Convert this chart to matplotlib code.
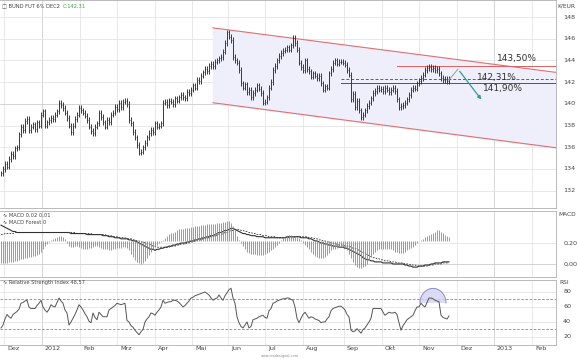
import numpy as np
import matplotlib
matplotlib.use("Agg")
import matplotlib.pyplot as plt

# ---------------- data ----------------
closes = [
    133.6, 134.0, 134.5, 134.2, 134.9, 135.4, 135.2, 135.9, 136.0, 137.2,
    137.9, 137.6, 138.4, 138.6, 137.6, 137.9, 138.1, 137.7, 138.3, 138.0,
    139.0, 139.3, 138.0, 138.3, 138.5, 138.7, 138.6, 139.0, 139.3, 140.1,
    139.9, 139.6, 139.2, 138.7, 138.0, 137.4, 138.0, 138.6, 139.0, 139.6,
    139.4, 139.2, 138.9, 138.5, 137.9, 137.5, 137.3, 137.9, 138.2, 139.2,
    138.8, 138.3, 137.9, 138.5, 138.3, 139.0, 139.2, 139.7, 139.5, 140.1,
    139.7, 140.2, 140.3, 140.0, 138.5, 138.2, 137.4, 136.9, 136.2, 135.5,
    135.6, 136.0, 136.4, 136.9, 137.3, 137.6, 137.4, 138.2, 137.9, 138.0,
    138.2, 140.1, 140.2, 139.9, 140.3, 140.2, 140.0, 140.5, 140.3, 140.6,
    140.8, 140.6, 140.5, 141.1, 141.0, 141.3, 141.7, 141.5, 142.2, 142.1,
    142.6, 142.9, 143.2, 143.0, 143.5, 143.7, 143.5, 143.9, 144.0, 144.2,
    144.3, 144.8, 145.6, 146.6, 146.2, 145.9, 144.3, 144.0, 143.8, 143.1,
    141.9, 141.5, 141.8, 141.1, 141.3, 140.6, 141.0, 141.3, 141.7, 141.4,
    141.0, 140.1, 140.2, 140.6, 141.5, 142.0, 143.1, 143.5, 144.0, 144.4,
    144.7, 144.9, 145.0, 145.2, 145.0, 145.4, 146.1, 145.6, 145.0, 143.8,
    143.4, 143.1, 144.0, 143.2, 143.0, 142.5, 142.8, 142.6, 142.4, 142.6,
    141.9, 141.3, 141.6, 141.5, 142.8, 143.2, 143.8, 144.0, 143.7, 143.9,
    143.9, 143.8, 143.6, 143.1, 142.7, 140.4, 140.9, 139.7, 140.3, 139.4,
    138.8, 139.0, 139.4, 139.8, 140.1, 140.5, 141.0, 141.2, 141.5, 141.3,
    141.4, 141.2, 141.5, 141.3, 141.1, 141.3, 141.5, 141.2, 140.4, 139.7,
    139.8, 139.9, 140.1, 140.4, 140.8, 141.3, 141.5, 141.4, 141.9, 142.1,
    142.4, 142.7, 143.1, 143.3, 143.4, 143.2, 143.3, 143.1, 143.2, 142.8,
    142.4, 142.2, 142.3, 142.1, 142.3,
]

rsi = [
    32, 36, 44, 50, 47, 45, 50, 52, 54, 57,
    65, 66, 68, 69, 60, 58, 58, 58, 62, 65,
    69, 60, 56, 53, 57, 63, 61, 60, 66, 72,
    68, 65, 56, 52, 36, 40, 45, 50, 56, 63,
    60, 56, 51, 47, 41, 39, 52, 46, 43, 53,
    50, 47, 47, 47, 56, 58, 60, 62, 65, 64,
    63, 64, 65, 42, 40, 35, 33, 29, 26, 23,
    27, 30, 40, 44, 47, 52, 51, 49, 53, 56,
    60, 69, 65, 66, 67, 67, 69, 69, 68, 66,
    63, 60, 62, 65, 68, 72, 73, 75, 76, 77,
    78, 79, 80, 78, 76, 72, 69, 71, 72, 76,
    72, 69, 75, 79, 83, 85, 72, 65, 47, 39,
    34, 32, 36, 40, 32, 34, 43, 44, 45, 47,
    48, 49, 46, 45, 55, 58, 65, 66, 68, 69,
    70, 71, 71, 72, 72, 70, 69, 60, 45, 39,
    45, 50, 53, 49, 45, 47, 46, 44, 43, 42,
    39, 40, 40, 44, 47, 55, 58, 59, 60, 61,
    61, 59, 56, 50, 47, 29, 27, 28, 31, 28,
    25, 30, 32, 36, 40, 45, 58, 58, 58, 58,
    58, 53, 49, 51, 53, 52, 52, 53, 50, 39,
    29, 35, 39, 43, 45, 47, 49, 55, 60, 60,
    65, 62, 60, 66, 72, 72, 71, 69, 68, 67,
    49, 46, 45, 44, 48,
]

macd = [
    0.37, 0.36, 0.35, 0.34, 0.33, 0.32, 0.31, 0.31, 0.30, 0.30,
    0.30, 0.30, 0.30, 0.30, 0.30, 0.30, 0.30, 0.30, 0.30, 0.30,
    0.30, 0.30, 0.30, 0.30, 0.30, 0.30, 0.30, 0.30, 0.30, 0.30,
    0.30, 0.30, 0.30, 0.30, 0.30, 0.29, 0.29, 0.29, 0.29, 0.29,
    0.29, 0.29, 0.29, 0.28, 0.28, 0.28, 0.28, 0.28, 0.28, 0.28,
    0.28, 0.27, 0.27, 0.27, 0.26, 0.26, 0.26, 0.25, 0.25, 0.25,
    0.24, 0.24, 0.24, 0.24, 0.23, 0.23, 0.22, 0.22, 0.21, 0.20,
    0.19, 0.18, 0.17, 0.16, 0.15, 0.14, 0.14, 0.13, 0.14, 0.14,
    0.15, 0.15, 0.16, 0.16, 0.17, 0.17, 0.18, 0.18, 0.19, 0.19,
    0.20, 0.20, 0.20, 0.21, 0.21, 0.22, 0.22, 0.23, 0.23, 0.24,
    0.24, 0.25, 0.25, 0.26, 0.26, 0.27, 0.27, 0.28, 0.29, 0.30,
    0.30, 0.31, 0.32, 0.32, 0.33, 0.34, 0.34, 0.33, 0.32, 0.31,
    0.30, 0.29, 0.29, 0.28, 0.28, 0.27, 0.27, 0.27, 0.26, 0.26,
    0.26, 0.26, 0.25, 0.25, 0.25, 0.25, 0.25, 0.25, 0.25, 0.25,
    0.25, 0.25, 0.25, 0.26, 0.26, 0.26, 0.26, 0.26, 0.26, 0.26,
    0.25, 0.25, 0.25, 0.25, 0.24, 0.24, 0.23, 0.22, 0.22, 0.21,
    0.20, 0.20, 0.19, 0.19, 0.18, 0.18, 0.17, 0.17, 0.17, 0.16,
    0.16, 0.16, 0.15, 0.15, 0.14, 0.13, 0.12, 0.11, 0.10, 0.09,
    0.08, 0.06, 0.05, 0.04, 0.04, 0.03, 0.03, 0.02, 0.02, 0.02,
    0.02, 0.01, 0.01, 0.01, 0.01, 0.01, 0.00, 0.00, 0.00, 0.00,
    0.00, 0.00, -0.01, -0.01, -0.02, -0.02, -0.03, -0.03, -0.03, -0.02,
    -0.02, -0.02, -0.01, -0.01, -0.01, 0.00, 0.00, 0.01, 0.01, 0.01,
    0.01, 0.02, 0.02, 0.02, 0.02,
]

signal = [
    0.28, 0.28, 0.29, 0.29, 0.29, 0.29, 0.29, 0.30, 0.30, 0.30,
    0.30, 0.30, 0.30, 0.30, 0.30, 0.30, 0.30, 0.30, 0.30, 0.30,
    0.30, 0.30, 0.30, 0.30, 0.30, 0.30, 0.30, 0.30, 0.30, 0.30,
    0.30, 0.30, 0.30, 0.30, 0.30, 0.30, 0.30, 0.30, 0.29, 0.29,
    0.29, 0.29, 0.29, 0.29, 0.29, 0.29, 0.28, 0.28, 0.28, 0.28,
    0.28, 0.28, 0.28, 0.27, 0.27, 0.27, 0.26, 0.26, 0.26, 0.25,
    0.25, 0.25, 0.25, 0.24, 0.24, 0.24, 0.23, 0.23, 0.22, 0.22,
    0.21, 0.21, 0.20, 0.19, 0.19, 0.18, 0.17, 0.17, 0.16, 0.16,
    0.16, 0.16, 0.16, 0.16, 0.16, 0.17, 0.17, 0.17, 0.18, 0.18,
    0.19, 0.19, 0.19, 0.20, 0.20, 0.21, 0.21, 0.22, 0.22, 0.23,
    0.23, 0.24, 0.24, 0.25, 0.25, 0.26, 0.26, 0.27, 0.27, 0.28,
    0.28, 0.29, 0.30, 0.30, 0.31, 0.32, 0.32, 0.33, 0.33, 0.33,
    0.32, 0.32, 0.31, 0.31, 0.30, 0.30, 0.29, 0.29, 0.28, 0.28,
    0.28, 0.27, 0.27, 0.27, 0.26, 0.26, 0.26, 0.26, 0.25, 0.25,
    0.25, 0.25, 0.25, 0.25, 0.25, 0.25, 0.25, 0.26, 0.26, 0.26,
    0.26, 0.26, 0.26, 0.26, 0.25, 0.25, 0.25, 0.24, 0.24, 0.23,
    0.23, 0.22, 0.22, 0.21, 0.21, 0.20, 0.20, 0.19, 0.19, 0.18,
    0.18, 0.18, 0.17, 0.17, 0.17, 0.16, 0.15, 0.15, 0.14, 0.13,
    0.12, 0.11, 0.10, 0.09, 0.08, 0.07, 0.06, 0.06, 0.05, 0.05,
    0.04, 0.04, 0.03, 0.03, 0.03, 0.02, 0.02, 0.02, 0.01, 0.01,
    0.01, 0.01, 0.00, 0.00, 0.00, -0.01, -0.01, -0.01, -0.02, -0.02,
    -0.02, -0.02, -0.02, -0.02, -0.01, -0.01, -0.01, 0.00, 0.00, 0.00,
    0.00, 0.01, 0.01, 0.01, 0.01,
]

forest = [
    -0.21, -0.21, -0.21, -0.21, -0.20, -0.20, -0.20, -0.19, -0.19, -0.18,
    -0.17, -0.17, -0.16, -0.16, -0.15, -0.15, -0.14, -0.14, -0.13, -0.12,
    -0.10, -0.08, -0.05, -0.03, -0.01, 0.01, 0.02, 0.03, 0.04, 0.05,
    0.05, 0.04, 0.02, -0.02, -0.05, -0.06, -0.06, -0.05, -0.05, -0.06,
    -0.07, -0.08, -0.08, -0.08, -0.07, -0.07, -0.06, -0.05, -0.05, -0.06,
    -0.07, -0.08, -0.08, -0.08, -0.09, -0.09, -0.08, -0.08, -0.07, -0.07,
    -0.07, -0.06, -0.06, -0.07, -0.09, -0.12, -0.15, -0.18, -0.20, -0.21,
    -0.22, -0.21, -0.19, -0.16, -0.13, -0.10, -0.08, -0.06, -0.04, -0.02,
    -0.01, 0.01, 0.03, 0.05, 0.07, 0.08, 0.08, 0.09, 0.10, 0.11,
    0.11, 0.11, 0.12, 0.12, 0.12, 0.13, 0.13, 0.14, 0.14, 0.14,
    0.15, 0.15, 0.15, 0.16, 0.16, 0.16, 0.16, 0.16, 0.17, 0.17,
    0.17, 0.18, 0.18, 0.19, 0.19, 0.17, 0.14, 0.10, 0.05, 0.01,
    -0.02, -0.05, -0.08, -0.10, -0.11, -0.12, -0.12, -0.12, -0.13, -0.13,
    -0.13, -0.13, -0.12, -0.11, -0.10, -0.09, -0.08, -0.06, -0.04, -0.02,
    0.01, 0.03, 0.04, 0.05, 0.06, 0.06, 0.05, 0.05, 0.04, 0.03,
    0.01, -0.02, -0.04, -0.06, -0.08, -0.10, -0.12, -0.14, -0.15, -0.16,
    -0.16, -0.16, -0.15, -0.13, -0.11, -0.09, -0.08, -0.08, -0.07, -0.06,
    -0.06, -0.06, -0.07, -0.09, -0.12, -0.16, -0.20, -0.23, -0.25, -0.26,
    -0.26, -0.25, -0.24, -0.22, -0.18, -0.14, -0.12, -0.10, -0.09, -0.08,
    -0.08, -0.08, -0.08, -0.08, -0.08, -0.08, -0.09, -0.10, -0.10, -0.11,
    -0.11, -0.11, -0.10, -0.09, -0.08, -0.07, -0.06, -0.04, -0.02, 0.00,
    0.01, 0.02, 0.04, 0.05, 0.06, 0.07, 0.08, 0.09, 0.10, 0.10,
    0.09, 0.08, 0.06, 0.05, 0.04,
]

month_labels = ["Dez", "2012", "Feb", "Mrz", "Apr", "Mai", "Jun", "Jul",
                "Aug", "Sep", "Okt", "Nov", "Dez", "2013", "Feb"]
month_pos = [1.5, 20.5, 39.5, 58, 77, 95.5, 113.5, 132, 151, 171.5,
             190.5, 209, 228, 246.5, 265.5]

price_ticks = [132, 134, 136, 138, 140, 142, 144, 146, 148]
rsi_ticks = [20, 40, 60, 80]
macd_ticks = [0.0, 0.2]

channel_x = [106, 277.5]
channel_upper = [147.0, 142.9]
channel_lower = [140.1, 135.95]

level_values = [143.50, 142.31, 141.90]
level_labels = ["143,50%", "142,31%", "141,90%"]
level_start = [198, 170, 170]

proj_x = [224, 228.5, 241]
proj_y = [142.2, 143.2, 140.2]

# ---------------- figure ----------------
W, H = 578, 359
fig = plt.figure(figsize=(W / 100, H / 100), dpi=100)
fig.patch.set_facecolor("white")

def frac(x0, y0, x1, y1):
    return [x0 / W, 1 - y1 / H, (x1 - x0) / W, (y1 - y0) / H]

ax = fig.add_axes(frac(0, 0, 556, 208))
axm = fig.add_axes(frac(0, 211, 556, 277))
axr = fig.add_axes(frac(0, 280, 556, 345))

XL = (-0.5, 277.5)
grid_c = "#e4e4e4"
txt_c = "#444444"
fs = 4.6
tfs = 3.7

for a in (ax, axm, axr):
    a.set_xlim(*XL)
    a.set_xticks([])
    a.set_yticks([])
    for s in a.spines.values():
        s.set_color("#b0b0b0")
        s.set_linewidth(0.6)
    a.spines["left"].set_visible(False)
    for i, p in enumerate(month_pos):
        yearline = month_labels[i] in ("2012", "2013")
        a.axvline(p, color="#cfcfcf" if yearline else grid_c, lw=0.6, zorder=0)

n = len(closes)
idx = np.arange(n)

# main price panel
ax.set_ylim(130.4, 149.57)
for t in price_ticks:
    ax.axhline(t, color="#cccccc" if t == 140 else grid_c, lw=0.6, zorder=0)
    ax.text(1.013, t, f"{t}", transform=ax.get_yaxis_transform(), fontsize=fs,
            color=txt_c, va="center", ha="left")
ax.text(1.003, 149.0, "K/EUR", transform=ax.get_yaxis_transform(), fontsize=4.2,
        color=txt_c, va="center", ha="left")

ax.fill_between(channel_x, channel_lower, channel_upper, color="#efeffb", zorder=1)
ax.plot(channel_x, channel_upper, color="#e07070", lw=0.8, zorder=3)
ax.plot(channel_x, channel_lower, color="#e07070", lw=0.8, zorder=3)

opens = [closes[0]] + closes[:-1]
lo = np.minimum(opens, closes)
hi = np.maximum(opens, closes)
ax.vlines(idx, lo - 0.25, hi + 0.25, color="#3a3a3a", lw=0.7, zorder=4)
ax.hlines(closes, idx, idx + 0.5, color="#3a3a3a", lw=0.5, zorder=4)

level_styles = [dict(color="#e06060", ls="-"),
                dict(color="#5a5a8a", ls=(0, (3, 2))),
                dict(color="#4a4aa0", ls="-")]
for v, s0, st in zip(level_values, level_start, level_styles):
    ax.plot([s0, XL[1]], [v, v], lw=0.7, zorder=3, **st)

ax.text(258, 144.2, level_labels[0], fontsize=6.5, color="#333333", ha="center", va="center")
ax.text(248, 142.45, level_labels[1], fontsize=6.5, color="#333333", ha="center", va="center")
ax.text(251, 141.45, level_labels[2], fontsize=6.5, color="#333333", ha="center", va="center")

ax.plot(proj_x[:2], proj_y[:2], color="#9a9a9a", lw=0.7, zorder=5)
ax.annotate("", xy=(proj_x[2], proj_y[2]), xytext=(proj_x[1], proj_y[1]),
            arrowprops=dict(arrowstyle="-|>", color="#2a9d9d", lw=0.9,
                            mutation_scale=5), zorder=5)

fig.text(2 / W, 1 - 6 / H, "\u25a1 BUND FUT 6% DEC2", fontsize=tfs, color="#444444",
         va="center", ha="left")
fig.text(63 / W, 1 - 6 / H, "C:142,31", fontsize=tfs, color="#3aa83a",
         va="center", ha="left")

# MACD panel
axm.set_ylim(-0.124, 0.505)
for t in macd_ticks:
    axm.axhline(t, color="#cccccc" if t == 0 else grid_c, lw=0.6, zorder=0)
    axm.text(1.013, t, f"{t:.2f}".replace(".", ","), transform=axm.get_yaxis_transform(),
             fontsize=fs, color=txt_c, va="center", ha="left")
axm.text(1.004, 0.47, "MACD", transform=axm.get_yaxis_transform(), fontsize=4.2,
         color=txt_c, va="center", ha="left")
axh = axm.twinx()
axh.set_ylim(-0.342, 0.285)
axh.set_xlim(*XL)
axh.axis("off")
axh.vlines(idx, 0, forest, color="#8a8a8a", lw=0.6)
axm.plot(idx, macd, color="#303030", lw=0.8, zorder=5)
axm.plot(idx, signal, color="#303030", lw=0.6, ls=(0, (2, 1.5)), zorder=5)
axm.text(1, 0.465, "\u223f MACD 0,02 0,01", fontsize=tfs, color="#444444", va="center")
axm.text(1, 0.40, "\u223f MACD Forest 0", fontsize=tfs, color="#444444", va="center")

# RSI panel
axr.set_ylim(9.3, 96)
for t in rsi_ticks:
    axr.axhline(t, color=grid_c, lw=0.6, zorder=0)
    axr.text(1.013, t, f"{t}", transform=axr.get_yaxis_transform(), fontsize=fs,
             color=txt_c, va="center", ha="left")
axr.text(1.006, 93, "RSI", transform=axr.get_yaxis_transform(), fontsize=4.2,
         color=txt_c, va="center", ha="left")
axr.axhline(70, color="#e06060", lw=0.6, ls=(0, (3, 2)), zorder=1)
axr.axhline(30, color="#e06060", lw=0.6, ls=(0, (3, 2)), zorder=1)
axr.plot(idx, rsi, color="#555555", lw=0.7, zorder=4)
axr.text(1, 92, "\u223f Relative Strength Index 48,57", fontsize=tfs, color="#444444",
         va="center")

# highlight dome
th = np.linspace(0, np.pi, 60)
cx, cy, rx, ry = 216, 65.3, 6.5, 19.5
dx = cx + rx * np.cos(th)
dy = cy + ry * np.sin(th)
axr.fill(dx, dy, color="#d2d2f4", alpha=0.8, zorder=3, lw=0)
axr.plot(dx, dy, color="#8a8ad0", lw=0.7, zorder=3)

# month labels
for p, lab in zip(month_pos, month_labels):
    axr.text(p + 1.5, -0.06, lab, transform=axr.get_xaxis_transform(), fontsize=fs,
             color=txt_c, ha="left", va="center")

fig.text(280 / W, 1 - 356 / H, "www.tradesignal.com", fontsize=2.5, color="#888888",
         ha="center", va="center")

fig.savefig("out.png", dpi=100, facecolor="white")
